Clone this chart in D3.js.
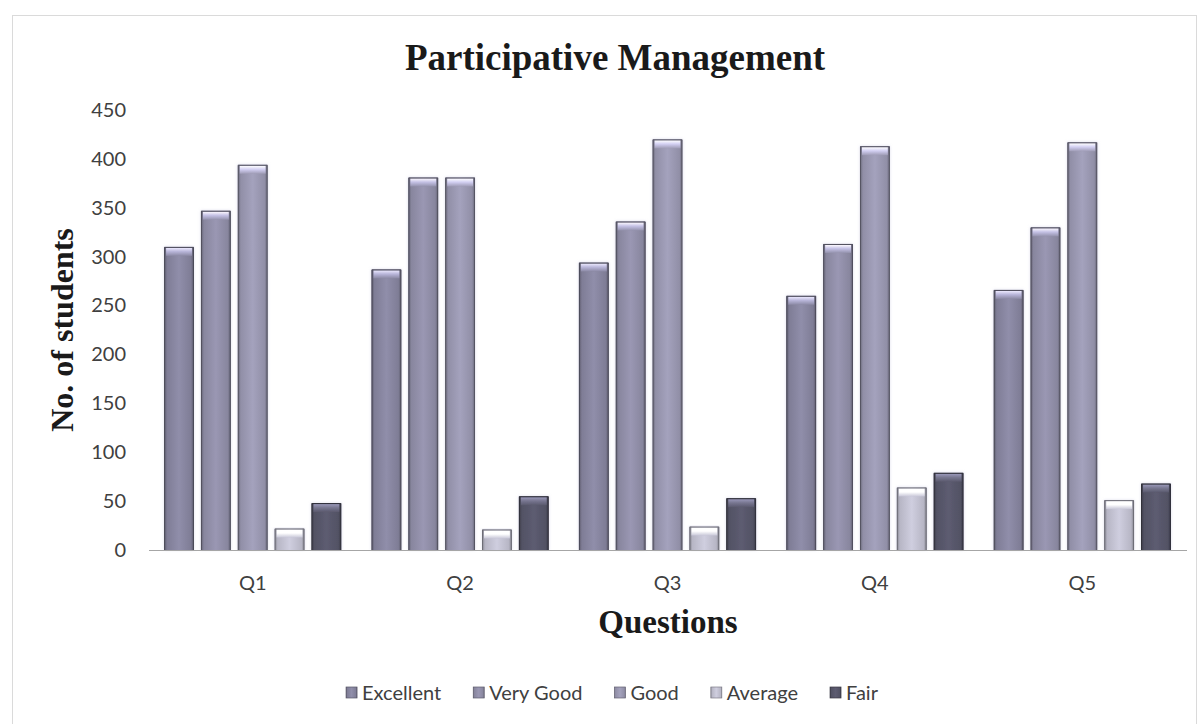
<!DOCTYPE html>
<html>
<head>
<meta charset="utf-8">
<script src="https://cdn.jsdelivr.net/npm/d3@7/dist/d3.min.js"></script>
<style>
  html, body { margin: 0; padding: 0; background: #fff; }
  svg { display: block; }
</style>
</head>
<body>
<div id="chart"></div>
<script>
const categories = ["Q1", "Q2", "Q3", "Q4", "Q5"];
const seriesNames = ["Excellent", "Very Good", "Good", "Average", "Fair"];
const excellent = [310, 287, 294, 260, 266];
const veryGood  = [347, 381, 336, 313, 330];
const good      = [394, 381, 420, 413, 417];
const average   = [22, 21, 24, 64, 51];
const fair      = [48, 55, 53, 79, 68];
const yTicks = [0, 50, 100, 150, 200, 250, 300, 350, 400, 450];
const seriesColors = ["#86849e", "#8f8da7", "#9997b0", "#c1c0d0", "#575669"];

const seriesValues = [excellent, veryGood, good, average, fair];
const W = 1204, H = 724;
const plot = { left: 149, right: 1186, top: 110, bottom: 550 };
const LABEL_FONT = "Lato, 'Open Sans', sans-serif";
const SERIF = "'Liberation Serif', 'Times New Roman', serif";

const svg = d3.select("#chart").append("svg").attr("width", W).attr("height", H);

// outer chart-area border (dotted, runs off the bottom)
svg.append("rect").attr("x", 12.5).attr("y", 15.5).attr("width", 1184).attr("height", 720)
  .attr("fill", "none").attr("stroke", "#b5b5b5").attr("stroke-dasharray", "1,1");

const defs = svg.append("defs");
seriesColors.forEach((c, i) => {
  const base = d3.color(c);
  const g = defs.append("linearGradient").attr("id", "g" + i).attr("x1", "0").attr("x2", "1").attr("y1", "0").attr("y2", "0");
  g.append("stop").attr("offset", "0%").attr("stop-color", base.darker(1.1));
  g.append("stop").attr("offset", "10%").attr("stop-color", base.darker(0.15));
  g.append("stop").attr("offset", "50%").attr("stop-color", base.brighter(0.2));
  g.append("stop").attr("offset", "90%").attr("stop-color", base.darker(0.15));
  g.append("stop").attr("offset", "100%").attr("stop-color", base.darker(1.1));
  const t = defs.append("linearGradient").attr("id", "t" + i).attr("x1", "0").attr("x2", "0").attr("y1", "0").attr("y2", "1");
  t.append("stop").attr("offset", "0%").attr("stop-color", base.brighter(1.6));
  t.append("stop").attr("offset", "45%").attr("stop-color", base.brighter(0.9));
  t.append("stop").attr("offset", "100%").attr("stop-color", base.brighter(0.1));
});
const glow = defs.append("filter").attr("id", "glow").attr("x", "-20%").attr("y", "-5%").attr("width", "140%").attr("height", "110%");
glow.append("feGaussianBlur").attr("in", "SourceAlpha").attr("stdDeviation", 1.5).attr("result", "b");
glow.append("feFlood").attr("flood-color", "#c8c6e0").attr("flood-opacity", 0.6);
glow.append("feComposite").attr("in2", "b").attr("operator", "in").attr("result", "s");
const fm = glow.append("feMerge");
fm.append("feMergeNode").attr("in", "s");
fm.append("feMergeNode").attr("in", "SourceGraphic");

const x0 = d3.scaleBand().domain(categories).range([plot.left, plot.right]).paddingInner(0).paddingOuter(0);
const x1 = d3.scaleBand().domain(seriesNames).range([0, x0.bandwidth()]).paddingInner(0.19).paddingOuter(0.41);
const y = d3.scaleLinear().domain([0, 450]).range([plot.bottom, plot.top]);

// Y axis labels
const yAxis = d3.axisLeft(y).tickValues(yTicks).tickSize(0).tickPadding(0);
const yg = svg.append("g").attr("transform", "translate(126,0)").call(yAxis);
yg.select(".domain").remove();
yg.selectAll("text").attr("font-family", LABEL_FONT).attr("font-size", 20).attr("fill", "#404040");

// bars
const groups = svg.append("g").selectAll("g").data(categories).join("g")
  .attr("transform", d => `translate(${x0(d)},0)`);
groups.each(function(cat, ci) {
  const g = d3.select(this);
  seriesNames.forEach((s, si) => {
    const v = seriesValues[si][ci];
    const bx = x1(s), bw = x1.bandwidth();
    const dark = d3.color(seriesColors[si]).darker(1.6);
    const bar = g.append("g").attr("filter", "url(#glow)");
    bar.append("rect").attr("x", bx).attr("y", y(v)).attr("width", bw).attr("height", y(0) - y(v))
      .attr("fill", `url(#g${si})`);
    bar.append("rect").attr("x", bx + 2).attr("y", y(v) + 1).attr("width", bw - 4).attr("height", 8)
      .attr("fill", `url(#t${si})`);
    bar.append("path").attr("d", `M${bx + 0.5},${y(0)}V${y(v) + 0.5}H${bx + bw - 0.5}V${y(0)}`)
      .attr("fill", "none").attr("stroke", dark).attr("stroke-width", 1);
  });
});

// X axis
const xAxis = d3.axisBottom(x0).tickSize(0).tickPadding(26);
const xg = svg.append("g").attr("transform", `translate(0,${plot.bottom})`).call(xAxis);
xg.select(".domain").attr("stroke", "#a6a6a6").attr("d", `M${plot.left},0.5H${plot.right + 1}`);
xg.selectAll("text").attr("font-family", LABEL_FONT).attr("font-size", 20).attr("fill", "#404040");

// titles
svg.append("text").attr("x", 615).attr("y", 70).attr("text-anchor", "middle")
  .attr("font-family", SERIF).attr("font-weight", "bold")
  .attr("font-size", 37).attr("fill", "#1a1a1a").text("Participative Management");
svg.append("text").attr("x", 668).attr("y", 633).attr("text-anchor", "middle")
  .attr("font-family", SERIF).attr("font-weight", "bold")
  .attr("font-size", 33).attr("fill", "#1a1a1a").text("Questions");
svg.append("text").attr("transform", "translate(73,330) rotate(-90)").attr("text-anchor", "middle")
  .attr("font-family", SERIF).attr("font-weight", "bold")
  .attr("font-size", 32).attr("fill", "#1a1a1a").text("No. of students");

// legend
const legend = svg.append("g");
const items = legend.selectAll("g").data(seriesNames).join("g");
items.append("rect").attr("x", 0).attr("y", -6).attr("width", 11).attr("height", 11)
  .attr("fill", (d, i) => `url(#g${i})`).attr("stroke", (d, i) => d3.color(seriesColors[i]).darker(1.2)).attr("stroke-width", 0.7);
items.append("text").attr("x", 16).attr("y", 7)
  .attr("font-family", LABEL_FONT).attr("font-size", 20).attr("fill", "#404040").text(d => d);
let lx = 0;
const itemGap = 32;
const offs = [];
items.each(function() {
  offs.push(lx);
  lx += 16 + d3.select(this).select("text").node().getComputedTextLength() + itemGap;
});
const totalW = lx - itemGap;
const legendStart = 612 - totalW / 2;
items.attr("transform", (d, i) => `translate(${legendStart + offs[i]},693)`);
</script>
</body>
</html>
